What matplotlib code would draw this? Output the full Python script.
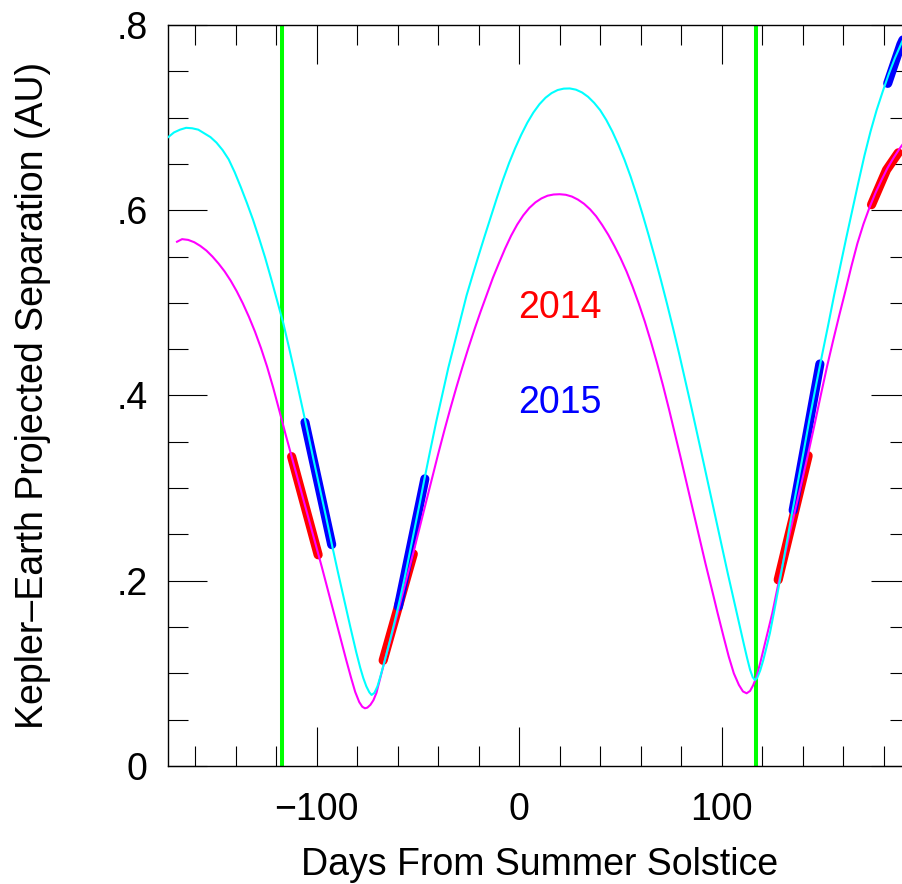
import numpy as np
import matplotlib
matplotlib.use("Agg")
import matplotlib.pyplot as plt
from matplotlib.ticker import MultipleLocator, FuncFormatter

plt.rcParams['font.family'] = ['Liberation Sans', 'DejaVu Sans']

# thin curves: Kepler-Earth projected separation vs days from summer solstice
days_2014 = [-169.0, -166.5, -163.5, -160.5, -157.5, -154.5, -151.5, -148.5, -145.5, -142.5,
             -139.5, -136.5, -133.5, -130.5, -127.5, -124.5, -121.5, -118.5, -115.5, -112.5,
             -109.5, -106.5, -103.5, -100.5, -97.5, -94.5, -91.5, -88.5, -85.5, -83.0,
             -81.0, -79.0, -77.5, -76.2, -75.0, -73.5, -72.0, -70.5, -68.5, -66.5,
             -64.0, -61.5, -59.0, -56.5, -54.0, -51.5, -49.0, -46.0, -43.0, -40.0,
             -37.0, -34.0, -31.0, -28.0, -25.0, -22.0, -19.0, -16.0, -13.0, -10.0,
             -7.0, -4.0, -1.0, 2.0, 5.0, 8.0, 11.0, 14.0, 17.0, 20.0,
             23.0, 26.0, 29.0, 32.0, 35.0, 38.0, 41.0, 44.0, 47.0, 50.0,
             53.0, 56.0, 59.0, 62.0, 65.0, 68.0, 71.0, 74.0, 77.0, 80.0,
             83.0, 86.0, 89.0, 92.0, 95.0, 98.0, 101.0, 103.5, 106.0, 108.5,
             110.5, 112.3, 114.0, 115.5, 117.0, 119.0, 121.0, 123.0, 125.0, 128.0,
             131.0, 134.0, 137.0, 140.0, 143.0, 146.0, 149.0, 152.0, 155.0, 158.0,
             161.0, 164.0, 167.0, 170.0, 173.0, 176.0, 179.0, 182.0, 185.0, 188.0,
             191.0, 193.0]
au_2014 = [0.566, 0.5688, 0.568, 0.5655, 0.5615, 0.5565, 0.550, 0.5425, 0.534, 0.524,
           0.5125, 0.4995, 0.485, 0.469, 0.451, 0.431, 0.4085, 0.384, 0.359, 0.335,
           0.311, 0.287, 0.263, 0.239, 0.215, 0.190, 0.165, 0.140, 0.115, 0.095,
           0.080, 0.069, 0.064, 0.0623, 0.063, 0.066, 0.071, 0.079, 0.096, 0.113,
           0.133, 0.153, 0.174, 0.195, 0.216, 0.237, 0.259, 0.285, 0.311, 0.337,
           0.362, 0.386, 0.409, 0.431, 0.452, 0.472, 0.491, 0.509, 0.527, 0.543,
           0.5585, 0.5725, 0.5845, 0.5945, 0.6025, 0.6085, 0.6128, 0.6157, 0.617, 0.6173,
           0.6167, 0.6148, 0.6115, 0.607, 0.601, 0.5935, 0.584, 0.5735, 0.5615, 0.5485,
           0.534, 0.5175, 0.4995, 0.480, 0.4585, 0.4355, 0.411, 0.385, 0.358, 0.3305,
           0.3025, 0.2745, 0.2465, 0.2185, 0.192, 0.165, 0.139, 0.118, 0.100, 0.0875,
           0.0805, 0.0785, 0.081, 0.087, 0.095, 0.111, 0.129, 0.147, 0.165, 0.197,
           0.226, 0.255, 0.283, 0.311, 0.340, 0.370, 0.401, 0.431, 0.459, 0.486,
           0.512, 0.539, 0.564, 0.585, 0.603, 0.619, 0.633, 0.646, 0.657, 0.667,
           0.676, 0.681]

days_2015 = [-173.3, -170.5, -167.5, -164.5, -161.5, -158.5, -155.5, -152.5, -149.5, -146.5,
             -143.5, -140.5, -137.5, -134.5, -131.5, -128.5, -125.5, -122.5, -119.5, -116.5,
             -113.5, -110.5, -107.5, -104.5, -101.5, -98.5, -95.5, -92.5, -89.5, -86.5,
             -83.5, -80.5, -78.5, -77.0, -75.5, -74.0, -72.9, -71.5, -70.0, -68.5,
             -66.5, -64.0, -61.5, -59.0, -56.5, -54.0, -51.5, -49.0, -46.6, -44.0,
             -41.0, -38.0, -35.0, -32.0, -29.0, -26.0, -23.0, -20.0, -17.0, -14.0,
             -11.0, -8.0, -5.0, -2.0, 1.0, 4.0, 7.0, 10.0, 13.0, 16.0,
             19.0, 22.0, 25.0, 28.0, 31.0, 34.0, 37.0, 40.0, 43.0, 46.0,
             49.0, 52.0, 55.0, 58.0, 61.0, 64.0, 67.0, 70.0, 73.0, 76.0,
             79.0, 82.0, 85.0, 88.0, 91.0, 94.0, 97.0, 100.0, 103.0, 106.0,
             109.0, 111.0, 112.5, 114.0, 115.3, 116.4, 117.5, 119.0, 120.5, 122.0,
             123.8, 126.0, 128.7, 131.5, 134.5, 137.5, 140.5, 143.5, 146.5, 149.5,
             152.5, 155.5, 158.5, 161.5, 164.5, 167.5, 170.5, 173.5, 176.5, 179.5,
             182.5, 185.5, 188.5, 191.5, 193.0]
au_2015 = [0.679, 0.684, 0.687, 0.689, 0.6885, 0.687, 0.683, 0.679, 0.673, 0.665,
           0.655, 0.641, 0.625, 0.608, 0.590, 0.570, 0.549, 0.526, 0.502, 0.478,
           0.450, 0.421, 0.391, 0.361, 0.330, 0.300, 0.270, 0.239, 0.209, 0.180,
           0.151, 0.123, 0.106, 0.095, 0.086, 0.0795, 0.0767, 0.079, 0.086, 0.097,
           0.113, 0.134, 0.156, 0.179, 0.204, 0.231, 0.258, 0.285, 0.312, 0.340,
           0.3715, 0.401, 0.430, 0.456, 0.482, 0.508, 0.530, 0.5515, 0.5725, 0.593,
           0.6135, 0.633, 0.651, 0.667, 0.6815, 0.6945, 0.7055, 0.7145, 0.7215, 0.7265,
           0.7298, 0.7313, 0.7315, 0.7302, 0.7272, 0.7225, 0.716, 0.708, 0.6975, 0.685,
           0.6705, 0.6545, 0.6365, 0.6165, 0.595, 0.5725, 0.549, 0.5245, 0.499, 0.4725,
           0.445, 0.4165, 0.3875, 0.358, 0.328, 0.298, 0.268, 0.238, 0.208, 0.179,
           0.1504, 0.131, 0.117, 0.104, 0.096, 0.0928, 0.095, 0.103, 0.114, 0.127,
           0.1433, 0.168, 0.200, 0.234, 0.270, 0.305, 0.340, 0.376, 0.410, 0.443,
           0.475, 0.508, 0.539, 0.570, 0.600, 0.630, 0.659, 0.685, 0.708, 0.728,
           0.747, 0.764, 0.779, 0.793, 0.800]

# thick observing-season segments
seg_2014_days = [[-112.4, -99.3], [-67.2, -52.3], [127.9, 142.7], [174.0, 181.4, 187.2]]
seg_2014_au = [[0.334, 0.228], [0.114, 0.229], [0.201, 0.335], [0.606, 0.6435, 0.662]]
seg_2015_days = [[-105.8, -92.6], [-59.7, -46.6], [135.3, 148.5], [182.0, 188.5, 193.0]]
seg_2015_au = [[0.371, 0.239], [0.172, 0.310], [0.276, 0.434], [0.737, 0.779, 0.800]]

green_days = [-117.0, 117.0]

fig = plt.figure(figsize=(9.02, 8.84), dpi=100)
ax = fig.add_axes([168.3 / 902, 118 / 884, (910 - 168.3) / 902, 741 / 884])

for d in green_days:
    ax.axvline(d, color='#00ff00', lw=2.9, zorder=1)

for xs, ys in zip(seg_2014_days, seg_2014_au):
    ax.plot(xs, ys, color='#ff0000', lw=6.6, solid_capstyle='round', zorder=2)
for xs, ys in zip(seg_2015_days, seg_2015_au):
    ax.plot(xs, ys, color='#0000ff', lw=6.6, solid_capstyle='round', zorder=2)

ax.plot(days_2014, au_2014, color='#ff00ff', lw=1.5, zorder=3)
ax.plot(days_2015, au_2015, color='#00ffff', lw=1.5, zorder=3)

ax.text(20, 0.4837, '2014', color='#ff0000', fontsize=27, ha='center', va='baseline')
ax.text(20, 0.381, '2015', color='#0000ff', fontsize=27, ha='center', va='baseline')

ax.set_xlim(-173.3, 193)
ax.set_ylim(0, 0.8)

ax.xaxis.set_major_locator(MultipleLocator(100))
ax.xaxis.set_minor_locator(MultipleLocator(20))
ax.yaxis.set_major_locator(MultipleLocator(0.2))
ax.yaxis.set_minor_locator(MultipleLocator(0.05))


def yfmt(v, pos):
    if abs(v) < 1e-9:
        return '0'
    return ('%.1f' % v).lstrip('0')


ax.yaxis.set_major_formatter(FuncFormatter(yfmt))
ax.xaxis.set_major_formatter(FuncFormatter(lambda v, p: ('%d' % round(v)).replace('-', '\u2212')))

ax.tick_params(which='both', direction='in', top=True, right=True, width=0.8, color='black')
ax.tick_params(which='major', length=28)
ax.tick_params(which='minor', length=14.4)
ax.tick_params(axis='x', which='major', labelsize=27, pad=19)
ax.tick_params(axis='y', which='major', labelsize=27, pad=15)

for s in ax.spines.values():
    s.set_linewidth(1.0)

ax.set_xlabel('Days From Summer Solstice', fontsize=27)
ax.set_ylabel('Kepler\u2013Earth Projected Separation (AU)', fontsize=27)
ax.xaxis.set_label_coords(0.5, -0.1093)
ax.yaxis.set_label_coords(-0.1582, 0.5)

fig.savefig('out.png', dpi=100)
